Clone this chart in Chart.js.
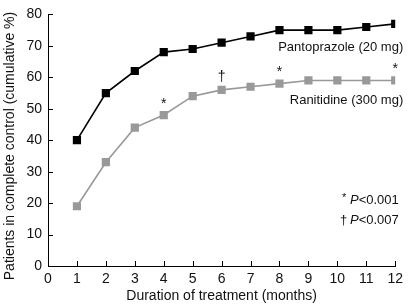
<!DOCTYPE html>
<html>
<head>
<meta charset="utf-8">
<script src="https://cdn.jsdelivr.net/npm/chart.js@4"></script>
<style>
  html, body { margin: 0; padding: 0; background: #fff; }
  #wrap { width: 408px; height: 305px; }
</style>
</head>
<body>
<div id="wrap"><canvas id="chart" width="408" height="305"></canvas></div>
<script>
// data
var months = [1, 2, 3, 4, 5, 6, 7, 8, 9, 10, 11, 12];
var pantoprazole = [40, 55, 62, 68, 69, 71, 73, 75, 75, 75, 76, 77];
var ranitidine = [19, 33, 44, 48, 54, 56, 57, 58, 59, 59, 59, 59];
var xTickValues = [0, 1, 2, 3, 4, 5, 6, 7, 8, 9, 10, 11, 12];
var yTickValues = [0, 10, 20, 30, 40, 50, 60, 70, 80];
// significance marks on the ranitidine curve
var sigMonths = [4, 6, 8, 12];
var sigSymbols = ['*', '\u2020', '*', '*'];

var FONT = '"Liberation Sans", Arial, Helvetica, sans-serif';

function toPoints(ys) {
    return months.map(function (m, i) { return { x: m, y: ys[i] }; });
}

// inward tick marks, y title, series labels, significance symbols and key
var extras = {
    id: 'extras',
    afterDatasetsDraw: function (chart) {
        var ctx = chart.ctx;
        var xs = chart.scales.x, ys = chart.scales.y;
        var a = chart.chartArea;
        ctx.save();
        ctx.strokeStyle = '#000';
        ctx.lineWidth = 1;
        ctx.beginPath();
        xTickValues.forEach(function (v) {
            var px = Math.round(xs.getPixelForValue(v)) + 0.5;
            ctx.moveTo(px, a.bottom);
            ctx.lineTo(px, a.bottom - 5);
        });
        yTickValues.forEach(function (v) {
            var py = Math.round(ys.getPixelForValue(v)) + 0.5;
            ctx.moveTo(a.left, py);
            ctx.lineTo(a.left + 5, py);
        });
        ctx.stroke();

        ctx.fillStyle = '#111';

        // y axis title
        ctx.save();
        ctx.translate(10, 146);
        ctx.rotate(-Math.PI / 2);
        ctx.textAlign = 'center';
        ctx.textBaseline = 'middle';
        ctx.font = '14px ' + FONT;
        ctx.fillText('Patients in complete control (cumulative %)', 0, 0);
        ctx.restore();

        ctx.font = '13px ' + FONT;
        ctx.textAlign = 'right';
        ctx.textBaseline = 'middle';
        var rx = xs.getPixelForValue(12) + 8;
        ctx.fillText('Pantoprazole (20 mg)', rx, ys.getPixelForValue(69.5));
        ctx.fillText('Ranitidine (300 mg)', rx, ys.getPixelForValue(52.8));

        ctx.textAlign = 'center';
        ctx.font = '14px ' + FONT;
        sigMonths.forEach(function (m, i) {
            var val = ranitidine[months.indexOf(m)];
            var off = sigSymbols[i] === '*' ? 11 : 13;
            ctx.fillText(sigSymbols[i], xs.getPixelForValue(m), ys.getPixelForValue(val) - off);
        });

        // p-value key
        ctx.textAlign = 'left';
        var keys = [['*', '<0.001', ys.getPixelForValue(20.9)], ['\u2020', '<0.007', ys.getPixelForValue(14.5)]];
        keys.forEach(function (k) {
            var x = 339;
            if (k[0] === '*') {
                ctx.font = '11px ' + FONT;
                ctx.fillText('*', x + 3, k[2] - 2);
            } else {
                ctx.font = '13px ' + FONT;
                ctx.fillText('\u2020', x + 1, k[2]);
            }
            ctx.font = 'italic 13px ' + FONT;
            ctx.fillText('P', x + 11, k[2]);
            var pw = ctx.measureText('P').width;
            ctx.font = '13px ' + FONT;
            ctx.fillText(k[1], x + 11 + pw, k[2]);
        });
        ctx.restore();
    }
};

new Chart(document.getElementById('chart'), {
    type: 'line',
    data: {
        datasets: [{
            label: 'Pantoprazole (20 mg)',
            data: toPoints(pantoprazole),
            borderColor: '#000',
            backgroundColor: '#000',
            borderWidth: 1.6,
            pointStyle: 'rect',
            pointRadius: 5.8,
            pointBorderWidth: 0,
            tension: 0
        }, {
            label: 'Ranitidine (300 mg)',
            data: toPoints(ranitidine),
            borderColor: '#999',
            backgroundColor: '#999',
            borderWidth: 1.6,
            pointStyle: 'rect',
            pointRadius: 5.8,
            pointBorderWidth: 0,
            tension: 0
        }]
    },
    options: {
        responsive: false,
        animation: false,
        layout: { padding: { top: 14, right: 9, left: 0, bottom: 0 } },
        plugins: {
            legend: { display: false },
            tooltip: { enabled: false }
        },
        scales: {
            x: {
                type: 'linear',
                min: 0,
                max: 12,
                afterBuildTicks: function (s) { s.ticks = xTickValues.map(function (v) { return { value: v }; }); },
                afterFit: function (s) { s.height = 39; },
                grid: { display: false, drawTicks: false },
                border: { display: true, color: '#000', width: 1 },
                ticks: { color: '#111', padding: 5, font: { family: FONT, size: 14 }, maxRotation: 0, autoSkip: false },
                title: { display: true, text: 'Duration of treatment (months)', color: '#111', font: { family: FONT, size: 14 }, padding: { top: 0, bottom: 0 } }
            },
            y: {
                min: 0,
                max: 80,
                afterBuildTicks: function (s) { s.ticks = yTickValues.map(function (v) { return { value: v }; }); },
                afterFit: function (s) { s.width = 48; },
                grid: { display: false, drawTicks: false },
                border: { display: true, color: '#000', width: 1 },
                ticks: { color: '#111', padding: 6, font: { family: FONT, size: 14 }, autoSkip: false },
                title: { display: false }
            }
        }
    },
    plugins: [extras]
});
</script>
</body>
</html>
